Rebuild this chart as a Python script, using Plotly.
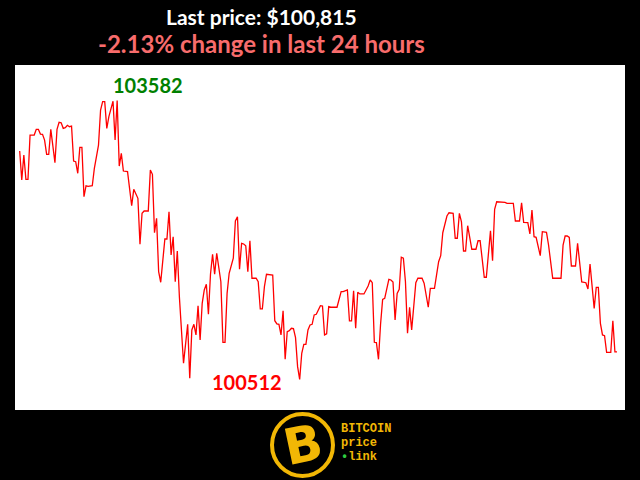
import plotly.graph_objects as go

# 5-minute slots over the last 24 hours (slot * 5 = minutes since start)
slot = [0,1,2,3,4,5,7,8,9,10,11,12,13,14,15,17,18,19,20,21,22,23,24,25,26,27,28,29,30,31,32,33,35,36,38,39,40,41,42,43,45,46,47,48,49,50,52,54,55,57,58,59,60,62,63,64,65,66,67,68,70,71,72,73,74,75,76,77,79,81,82,83,84,85,86,87,88,89,90,91,92,93,94,95,97,98,99,100,101,103,104,105,106,107,108,109,110,111,112,114,115,116,117,118,119,122,123,124,125,126,127,128,129,130,131,132,133,134,135,136,137,138,139,140,141,142,143,145,146,147,148,149,150,153,155,156,158,159,160,161,162,163,164,166,168,169,170,171,172,173,174,175,176,178,179,180,181,182,183,184,185,186,187,188,189,191,192,194,195,197,198,200,202,203,204,205,206,207,209,210,211,212,213,214,215,216,218,220,221,222,224,225,227,228,229,230,234,235,238,239,241,242,243,245,246,247,248,249,251,252,254,255,257,261,262,263,264,265,266,268,269,271,273,274,275,277,278,279,280,281,282,283,285,286,287,288]
price = [103026,102707,102982,102715,102715,103202,103202,103265,103265,103213,103210,103147,102990,102990,103265,102898,103265,103342,103338,103276,103283,103309,103294,103301,102916,102909,102781,103067,103067,102523,102644,102638,102644,102836,103092,103477,103570,103570,103276,103404,103575,103147,103582,102861,103001,102806,102799,102424,102605,102506,102000,102341,102366,102366,102817,102770,102127,102286,101698,101582,102058,102058,102358,101882,102083,101588,101926,101423,100690,101119,100525,101057,101119,101002,101324,100947,101350,101497,101560,101229,101670,101890,101670,101901,101588,100921,100921,101460,101681,101846,102256,102303,101725,102011,102003,101984,101698,102039,101626,101626,101588,101288,101288,101533,101670,101662,101159,101123,101119,101002,101269,100734,101038,101049,101075,101071,100972,100653,100512,100800,100899,100899,101057,101112,101119,101222,101229,101324,101321,101002,101013,101313,101307,101307,101478,101478,101497,101156,101156,101489,101075,101471,101453,101453,101541,101607,101577,100921,100917,100734,101119,101394,101405,101614,101607,101585,101167,101460,101504,101857,101846,101588,101020,101306,101057,101577,101626,101626,101571,101307,101515,101515,101808,101874,102127,102231,102311,102347,102341,102066,102066,102341,102248,101926,101926,102204,101945,101945,102039,102039,101637,101637,102149,101819,102385,102468,102462,102451,102451,102256,102256,102457,102242,102238,102113,102377,102083,102076,101874,102138,102132,101992,101626,101626,101992,102091,102091,102076,101761,101761,102011,101585,101577,101508,101783,101295,101526,101526,101130,101002,100994,100811,100811,101159,100815,100815]

last_price = 100815
change_pct = -2.13
high_label = "103582"
low_label = "100512"

minutes = [s * 5 for s in slot]
i_max = price.index(max(price))
i_min = price.index(min(price))

fig = go.Figure()
fig.add_trace(go.Scatter(x=minutes, y=price, mode="lines",
                         line=dict(color="#ff0000", width=1.3), hoverinfo="skip"))

GOLD = "#f2b705"
W, H = 640, 480
L, R, T, B = 15, 15, 65, 70
pw, ph = W - L - R, H - T - B

def px(x):
    return (x - L) / pw

def py(y):
    return (H - B - y) / ph

annotations = [
    dict(text=f"Last price: ${last_price:,}", x=px(261), y=py(16), xref="paper", yref="paper",
         showarrow=False, xanchor="center", yanchor="middle",
         font=dict(family="Lato", size=21, color="white", weight="bold")),
    dict(text=f"{change_pct:.2f}% change in last 24 hours", x=px(261), y=py(43), xref="paper", yref="paper",
         showarrow=False, xanchor="center", yanchor="middle",
         font=dict(family="Lato", size=24, color="#f86c6c", weight="bold")),
    dict(text=high_label, x=minutes[i_max], y=price[i_max], xref="x", yref="y",
         showarrow=False, xanchor="center", yanchor="middle", xshift=31, yshift=16,
         font=dict(family="Lato", size=20, color="#008000", weight="bold")),
    dict(text=low_label, x=minutes[i_min], y=price[i_min], xref="x", yref="y",
         showarrow=False, xanchor="center", yanchor="middle", xshift=-53, yshift=-3,
         font=dict(family="Lato", size=20, color="#ff0000", weight="bold")),
    # logo
    dict(text="B", x=px(303), y=py(445), xref="paper", yref="paper", showarrow=False,
         xanchor="center", yanchor="middle", textangle=-12,
         font=dict(family="DejaVu Sans", size=50, color=GOLD, weight="bold")),
    dict(text="BITCOIN", x=px(339), y=py(429), xref="paper", yref="paper", showarrow=False,
         xanchor="left", yanchor="middle",
         font=dict(family="Liberation Mono", size=12, color=GOLD, weight="bold")),
    dict(text="price", x=px(339), y=py(443), xref="paper", yref="paper", showarrow=False,
         xanchor="left", yanchor="middle",
         font=dict(family="Liberation Mono", size=12, color=GOLD, weight="bold")),
    dict(text="<span style='color:#2ecc40'>•</span>link", x=px(339), y=py(457), xref="paper", yref="paper",
         showarrow=False, xanchor="left", yanchor="middle",
         font=dict(family="Liberation Mono", size=12, color=GOLD, weight="bold")),
]

shapes = [
    dict(type="circle", xref="paper", yref="paper", x0=px(272), x1=px(333), y0=py(476), y1=py(414),
         line=dict(color=GOLD, width=4), fillcolor="black"),
]

fig.update_layout(
    width=W, height=H,
    margin=dict(l=L, r=R, t=T, b=B),
    paper_bgcolor="black", plot_bgcolor="white",
    showlegend=False,
    xaxis=dict(visible=False, range=[-11.3, 1459.3], fixedrange=True),
    yaxis=dict(visible=False, range=[100176, 103973], fixedrange=True),
    annotations=annotations, shapes=shapes,
)
fig.write_html(
    "out.html",
    config={"displayModeBar": False},
    post_script="document.body.style.margin='0';document.body.style.background='black';"
                "document.body.style.overflow='hidden';",
)
